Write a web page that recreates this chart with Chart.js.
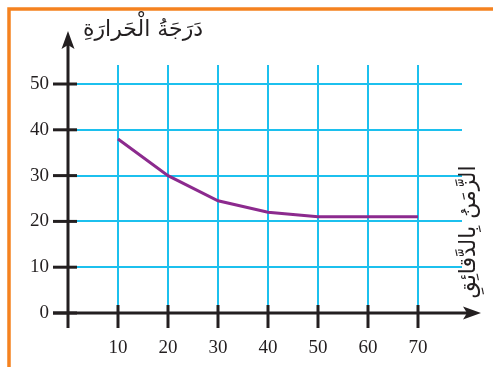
<!DOCTYPE html>
<html>
<head>
<meta charset="utf-8">
<title>دَرَجَةُ الْحَرارَةِ</title>
<script src="https://cdn.jsdelivr.net/npm/chart.js@4/dist/chart.umd.min.js"></script>
<style>
  html, body { margin: 0; padding: 0; background: #ffffff; }
  canvas { display: block; }
</style>
</head>
<body>
<canvas id="c" width="493" height="367"></canvas>
<script>
// Cooling curve: temperature against time in minutes
const minutes = [10, 20, 30, 40, 50, 60, 70];
const temperatures = [38, 30, 24.5, 22, 21, 21, 21];
const xTickValues = [0, 10, 20, 30, 40, 50, 60, 70];
const yTickValues = [0, 10, 20, 30, 40, 50];
const yAxisTitle = 'دَرَجَةُ الْحَرارَةِ';
const xAxisTitle = 'الزَّمَنُ بِالدَّقائِقِ';

const INK = '#231f20';
const GRID = '#1cc0ee';
const LINE = '#8c2a8e';
const FRAME = '#f5821f';

// Axes with arrowheads, tick marks, titles and the page frame
const decorations = {
  id: 'decorations',
  beforeDraw(chart) {
    const ctx = chart.ctx;
    ctx.save();
    ctx.strokeStyle = FRAME;
    ctx.lineWidth = 3.5;
    ctx.beginPath();
    ctx.moveTo(9, chart.height);
    ctx.lineTo(9, 9);
    ctx.lineTo(chart.width, 9);
    ctx.stroke();
    ctx.restore();
  },
  afterDraw(chart) {
    const ctx = chart.ctx;
    const xs = chart.scales.x, ys = chart.scales.y;
    const x0 = xs.getPixelForValue(0);
    const y0 = ys.getPixelForValue(0);
    ctx.save();
    ctx.strokeStyle = INK;
    ctx.fillStyle = INK;
    ctx.lineWidth = 3;
    ctx.lineCap = 'butt';

    // vertical axis
    ctx.beginPath();
    ctx.moveTo(x0, y0 + 15);
    ctx.lineTo(x0, 44);
    ctx.stroke();
    // horizontal axis
    ctx.beginPath();
    ctx.moveTo(x0 - 15, y0);
    ctx.lineTo(468, y0);
    ctx.stroke();

    // arrowheads
    ctx.beginPath();
    ctx.moveTo(x0, 31);
    ctx.lineTo(x0 + 6.5, 49);
    ctx.lineTo(x0, 45);
    ctx.lineTo(x0 - 6.5, 49);
    ctx.closePath();
    ctx.fill();
    ctx.beginPath();
    ctx.moveTo(481, y0);
    ctx.lineTo(463, y0 - 6.5);
    ctx.lineTo(467, y0);
    ctx.lineTo(463, y0 + 6.5);
    ctx.closePath();
    ctx.fill();

    // tick marks
    ctx.lineWidth = 3;
    yTickValues.forEach(v => {
      const py = ys.getPixelForValue(v);
      ctx.beginPath();
      ctx.moveTo(x0 - 15, py);
      ctx.lineTo(x0 + 9, py);
      ctx.stroke();
    });
    minutes.forEach(v => {
      const px = xs.getPixelForValue(v);
      ctx.beginPath();
      ctx.moveTo(px, y0 - 8);
      ctx.lineTo(px, y0 + 15);
      ctx.stroke();
    });

    // axis titles
    ctx.font = '22px "DejaVu Sans", sans-serif';
    ctx.textAlign = 'center';
    ctx.textBaseline = 'middle';
    ctx.direction = 'rtl';
    ctx.fillText(yAxisTitle, 143, 30);
    ctx.translate(469, 232);
    ctx.rotate(-Math.PI / 2);
    ctx.fillText(xAxisTitle, 0, 0);
    ctx.restore();
  }
};

const tickFont = { family: '"Liberation Serif", "DejaVu Serif", serif', size: 19 };

new Chart(document.getElementById('c'), {
  type: 'line',
  data: {
    datasets: [{
      data: minutes.map((m, i) => ({ x: m, y: temperatures[i] })),
      borderColor: LINE,
      borderWidth: 3,
      pointRadius: 0,
      tension: 0,
      fill: false
    }]
  },
  options: {
    responsive: false,
    animation: false,
    devicePixelRatio: 1,
    layout: { padding: { top: 65, right: 31, left: 0, bottom: 0 } },
    plugins: { legend: { display: false }, tooltip: { enabled: false } },
    scales: {
      x: {
        type: 'linear',
        min: 0,
        max: 78.8,
        afterFit(scale) { scale.height = 54; },
        afterBuildTicks(scale) { scale.ticks = xTickValues.map(v => ({ value: v })); },
        border: { display: false },
        grid: { color: GRID, lineWidth: 2, drawTicks: false },
        ticks: {
          padding: 24,
          color: INK,
          font: tickFont,
          maxRotation: 0,
          callback: v => (v === 0 ? '' : String(v))
        }
      },
      y: {
        type: 'linear',
        min: 0,
        max: 54.15,
        afterFit(scale) { scale.width = 68; },
        afterBuildTicks(scale) { scale.ticks = yTickValues.map(v => ({ value: v })); },
        border: { display: false },
        grid: { color: GRID, lineWidth: 2, drawTicks: false },
        ticks: { padding: 19, color: INK, font: tickFont }
      }
    }
  },
  plugins: [decorations]
});
</script>
</body>
</html>
